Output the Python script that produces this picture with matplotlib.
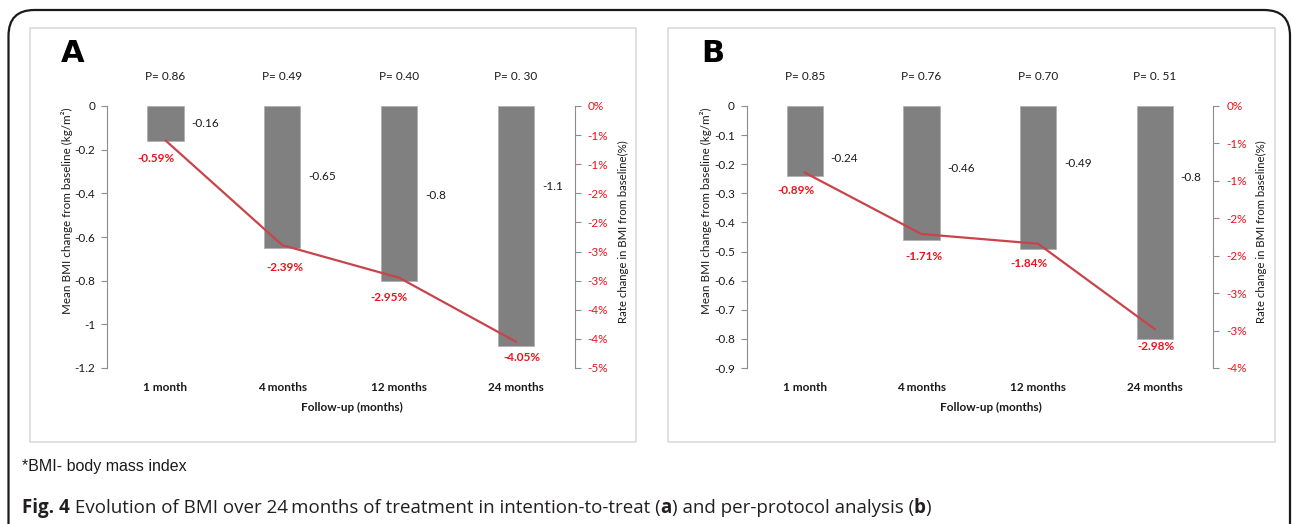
import numpy as np
import matplotlib
matplotlib.use("Agg")
import matplotlib.pyplot as plt
from matplotlib.patches import Rectangle, FancyBboxPatch
import matplotlib.transforms as mtransforms

# ---- data ----
months = ["1 month", "4 months", "12 months", "24 months"]

bmi_change_itt = [-0.16, -0.65, -0.8, -1.1]
rate_change_itt = [-0.59, -2.39, -2.95, -4.05]
p_values_itt = ["P= 0.86", "P= 0.49", "P= 0.40", "P= 0. 30"]

bmi_change_pp = [-0.24, -0.46, -0.49, -0.8]
rate_change_pp = [-0.89, -1.71, -1.84, -2.98]
p_values_pp = ["P= 0.85", "P= 0.76", "P= 0.70", "P= 0. 51"]

W, H = 1292, 524
BAR_COLOR = "#808080"
LINE_COLOR = "#c9444a"
PCT_COLOR = "#e8141c"
TXT = "#1a1a1a"
FS = 8.5

plt.rcParams["font.family"] = ["Lato", "DejaVu Sans"]

fig = plt.figure(figsize=(W / 100, H / 100), dpi=100)


def px_box(x0, y0, x1, y1):
    """pixel box (top-left origin) -> figure fraction rect"""
    return [x0 / W, 1 - y1 / H, (x1 - x0) / W, (y1 - y0) / H]


def panel(letter, box, frame, bmi, rate, pvals, ylim, ystep, rlim,
          val_label_y, pct_offsets, letter_xy, xlabel_x, ylab_x, rlab_x):
    # light frame round the panel
    fx0, fy0, fx1, fy1 = frame
    fig.patches.append(Rectangle((fx0 / W, 1 - fy1 / H), (fx1 - fx0) / W, (fy1 - fy0) / H,
                                 transform=fig.transFigure, fill=False,
                                 edgecolor="#dcdcdc", lw=1.2))

    ax = fig.add_axes(px_box(*box))
    x = np.arange(len(months))
    ax.bar(x, bmi, width=0.31, color=BAR_COLOR, edgecolor="#b0b0b0", lw=0.6, zorder=2)
    ax.set_xlim(-0.5, len(months) - 0.5)
    ax.set_ylim(ylim, 0)
    yt = np.round(np.arange(0, ylim - ystep / 2, -ystep), 2)
    ax.set_yticks(yt)
    ax.set_yticklabels([f"{v:g}" if v != 0 else "0" for v in yt], fontsize=FS, color=TXT)
    ax.set_xticks(x)
    ax.set_xticklabels(months, fontsize=FS, fontweight="bold", color=TXT)
    ax.tick_params(axis="x", length=0, pad=10)
    ax.tick_params(axis="y", length=4, color="#8c8c8c", width=0.8, pad=4.5)
    for s in ["top", "bottom", "right"]:
        ax.spines[s].set_visible(False)
    ax.spines["left"].set_color("#8c8c8c")
    ax.spines["left"].set_linewidth(0.8)
    ax.patch.set_alpha(0)

    # value labels right of bars
    for i, v in enumerate(bmi):
        ax.annotate(f"{v:g}", (i + 0.155, val_label_y[i]), xytext=(5.5, 0),
                    textcoords="offset points", ha="left", va="center",
                    fontsize=FS, color=TXT)

    # p values above
    tr = mtransforms.blended_transform_factory(ax.transData, ax.transAxes)
    for i, p in enumerate(pvals):
        ax.text(i, 1.112, p, transform=tr, ha="center", va="center",
                fontsize=FS, color=TXT)

    ax.set_ylabel("Mean BMI change from baseline (kg/m²)", fontsize=8.4, color=TXT)
    ax.yaxis.set_label_coords(ylab_x, 0.6)

    # secondary axis with rate change
    ax2 = ax.twinx()
    ax2.plot(x, rate, color=LINE_COLOR, lw=1.6, zorder=3)
    ax2.set_ylim(rlim, 0)
    rt = np.arange(0, rlim - 0.25, -0.5)
    ax2.set_yticks(rt)
    ax2.set_yticklabels([f"{-int(np.floor(abs(v) + 0.5))}%" if v != 0 else "0%" for v in rt],
                        fontsize=FS, color=PCT_COLOR)
    ax2.tick_params(axis="y", length=4, color="#8c8c8c", width=0.8, pad=5.5)
    for s in ["top", "bottom", "left"]:
        ax2.spines[s].set_visible(False)
    ax2.spines["right"].set_color("#8c8c8c")
    ax2.spines["right"].set_linewidth(0.8)
    ax2.set_ylabel("Rate change in BMI from baseline(%)", fontsize=8.2, color=TXT)
    ax2.yaxis.set_label_coords(rlab_x, 0.52)

    for i, r in enumerate(rate):
        dx, dy = pct_offsets[i]
        ax2.annotate(f"{r:.2f}%", (i, r), xytext=(dx * 0.72, -dy * 0.72),
                     textcoords="offset points", ha="center", va="center",
                     fontsize=FS, fontweight="bold", color=PCT_COLOR)

    fig.text(letter_xy[0] / W, 1 - letter_xy[1] / H, letter, fontsize=22,
             fontweight="bold", ha="center", va="center", family="DejaVu Sans")
    fig.text(xlabel_x / W, 1 - 407 / H, "Follow-up (months)", fontsize=FS,
             fontweight="bold", ha="center", va="center", color=TXT)
    return ax


panel("A", (107, 106, 574.5, 368), (30, 28, 636, 442),
      bmi_change_itt, rate_change_itt, p_values_itt, -1.2, 0.2, -4.5,
      [-0.08, -0.325, -0.41, -0.37],
      [(-9, 18), (3, 22), (-10, 20), (6, 16)],
      (73, 54), 352, -0.072, 1.093)

panel("B", (746.5, 106, 1213, 368), (668, 28, 1274.5, 442),
      bmi_change_pp, rate_change_pp, p_values_pp, -0.9, 0.1, -3.5,
      [-0.182, -0.213, -0.196, -0.247],
      [(-9, 18), (2.5, 22), (-9, 20), (1.5, 17)],
      (713, 54), 991, -0.075, 1.092)

# outer rounded border, open past the bottom edge
fig.patches.append(FancyBboxPatch((8.5 / W, -0.05), (1290 - 8.5) / W, 1 - 10 / H + 0.05,
                                  boxstyle="round,pad=0,rounding_size=0.02",
                                  transform=fig.transFigure, fill=False,
                                  edgecolor="#1a1a1a", lw=1.6, mutation_aspect=W / H))

# captions
fig.text(22 / W, 1 - 467 / H, "*BMI- body mass index", fontsize=11.5,
         family="Liberation Sans", color=TXT, va="center")

renderer = fig.canvas.get_renderer()
parts = [("Fig. 4", "bold"), (" Evolution of BMI over 24\u2009months of treatment in intention-to-treat (", "normal"),
         ("a", "bold"), (") and per-protocol analysis (", "normal"), ("b", "bold"), (")", "normal")]
xpos = 22
for txt, wt in parts:
    t = fig.text(xpos / W, 1 - 508 / H, txt, fontsize=13.5, fontweight=wt,
                 color="#231f20", va="center", family=["Open Sans", "DejaVu Sans"])
    bb = t.get_window_extent(renderer)
    xpos += bb.width

fig.savefig("out.png", dpi=100)
